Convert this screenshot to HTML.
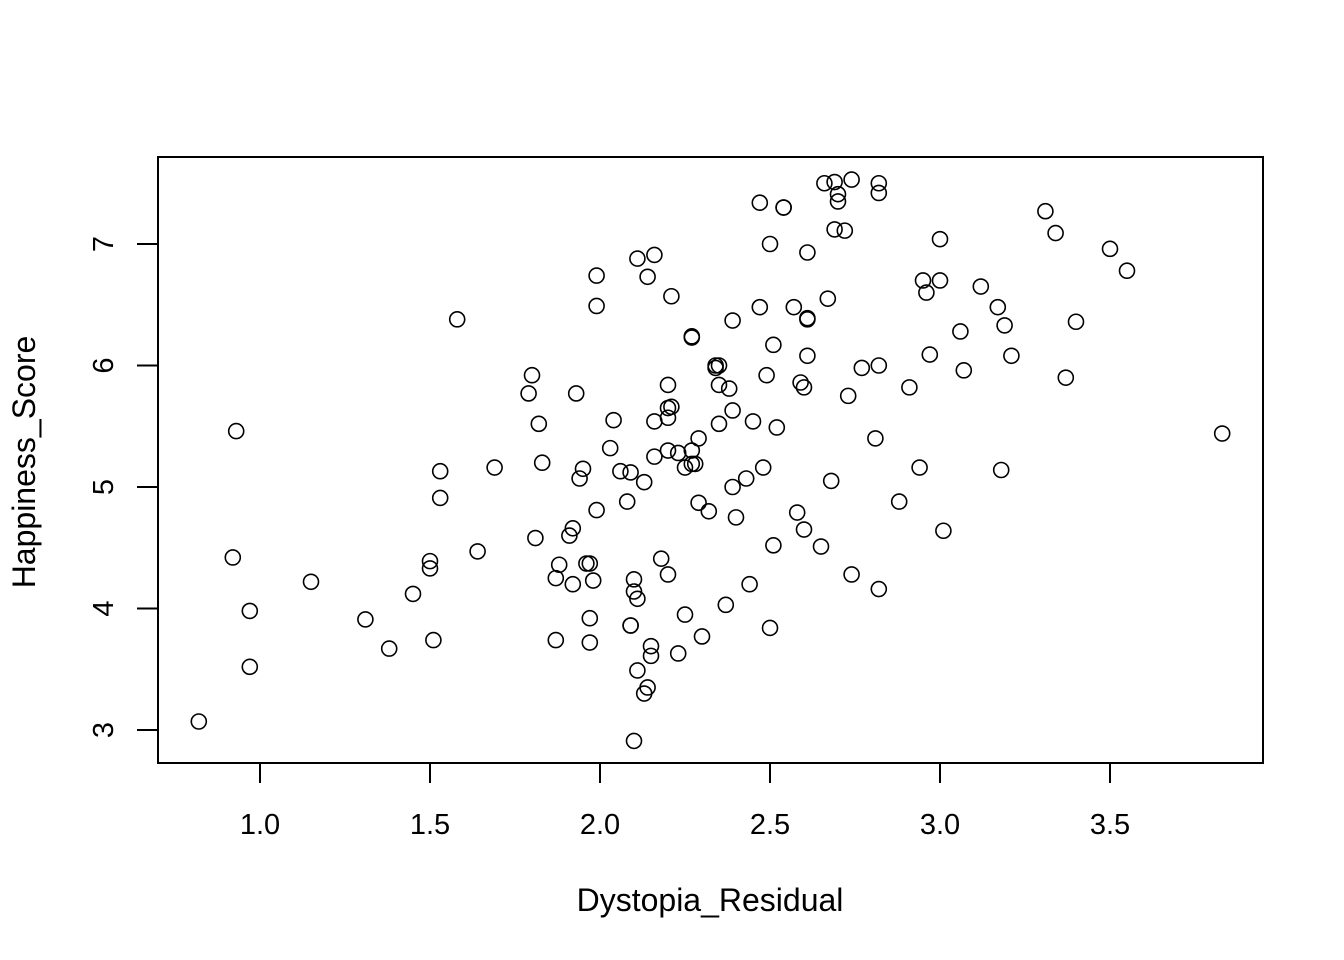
<!DOCTYPE html>
<html><head><meta charset="utf-8"><style>
html,body{margin:0;padding:0;background:#fff;}
svg{display:block;font-family:"Liberation Sans",Arial,sans-serif;}
</style></head><body>
<svg id="chart" width="1344" height="960">
<rect x="158" y="157" width="1105" height="606" fill="none" stroke="#000" stroke-width="2"/>
<g id="xaxis"></g>
<g id="yaxis"></g>
<g id="points"></g>
<text x="710" y="911" font-size="32" text-anchor="middle">Dystopia_Residual</text>
<text transform="translate(35,462) rotate(-90)" font-size="32" text-anchor="middle">Happiness_Score</text>
</svg>
<script>
const xTicks=[1.0,1.5,2.0,2.5,3.0,3.5];
const xTickLabels=["1.0","1.5","2.0","2.5","3.0","3.5"];
const yTicks=[3,4,5,6,7];
const yTickLabels=["3","4","5","6","7"];
const dystopia=[0.82,0.92,0.93,0.97,0.97,1.15,1.31,1.38,1.45,1.50,1.50,1.51,1.53,1.53,1.58,1.64,1.69,1.79,1.80,1.81,1.82,1.83,1.87,1.87,1.88,1.91,1.92,1.92,1.93,1.94,1.95,1.96,1.97,1.97,1.97,1.98,1.99,1.99,1.99,2.03,2.04,2.06,2.08,2.09,2.09,2.09,2.10,2.10,2.11,2.11,2.10,2.11,2.13,2.14,2.13,2.15,2.15,2.14,2.16,2.16,2.16,2.18,2.20,2.20,2.20,2.20,2.21,2.21,2.20,2.23,2.23,2.25,2.25,2.27,2.27,2.27,2.27,2.28,2.29,2.29,2.30,2.32,2.34,2.34,2.35,2.35,2.35,2.37,2.38,2.39,2.39,2.39,2.40,2.43,2.44,2.45,2.47,2.47,2.48,2.49,2.50,2.51,2.51,2.52,2.50,2.54,2.54,2.57,2.58,2.59,2.60,2.60,2.61,2.61,2.61,2.61,2.65,2.66,2.67,2.68,2.69,2.70,2.69,2.70,2.72,2.73,2.74,2.74,2.77,2.81,2.82,2.82,2.82,2.82,2.88,2.91,2.94,2.95,2.96,2.97,3.00,3.00,3.01,3.06,3.07,3.12,3.17,3.18,3.19,3.21,3.31,3.34,3.37,3.40,3.50,3.55,3.83];
const happiness=[3.07,4.42,5.46,3.98,3.52,4.22,3.91,3.67,4.12,4.33,4.39,3.74,5.13,4.91,6.38,4.47,5.16,5.77,5.92,4.58,5.52,5.20,4.25,3.74,4.36,4.60,4.66,4.20,5.77,5.07,5.15,4.37,3.92,3.72,4.37,4.23,6.74,6.49,4.81,5.32,5.55,5.13,4.88,5.12,3.86,3.86,4.24,4.14,4.08,3.49,2.91,6.88,5.04,3.35,3.30,3.69,3.61,6.73,6.91,5.54,5.25,4.41,5.65,5.84,5.30,4.28,6.57,5.66,5.57,5.28,3.63,5.16,3.95,6.23,6.24,5.30,5.19,5.19,5.40,4.87,3.77,4.80,5.98,6.00,6.00,5.84,5.52,4.03,5.81,5.00,5.63,6.37,4.75,5.07,4.20,5.54,7.34,6.48,5.16,5.92,7.00,6.17,4.52,5.49,3.84,7.30,7.30,6.48,4.79,5.86,5.82,4.65,6.39,6.38,6.08,6.93,4.51,7.50,6.55,5.05,7.51,7.41,7.12,7.35,7.11,5.75,7.53,4.28,5.98,5.40,6.00,7.42,7.50,4.16,4.88,5.82,5.16,6.70,6.60,6.09,7.04,6.70,4.64,6.28,5.96,6.65,6.48,5.14,6.33,6.08,7.27,7.09,5.90,6.36,6.96,6.78,5.44];

const NS="http://www.w3.org/2000/svg";
function sx(v){return 260+(v-1.0)*340;}
function sy(v){return 730-(v-3)*121.5;}
function mk(tag,attrs,parent){const e=document.createElementNS(NS,tag);for(const k in attrs)e.setAttribute(k,attrs[k]);parent.appendChild(e);return e;}

const xa=document.getElementById('xaxis');
mk('line',{x1:sx(xTicks[0]),x2:sx(xTicks[xTicks.length-1]),y1:763,y2:763,stroke:'#000','stroke-width':2},xa);
xTicks.forEach((t,i)=>{
  const l=mk('line',{x1:sx(t),x2:sx(t),y1:763,y2:783,stroke:'#000','stroke-width':2},xa);
  
  
  const tx=mk('text',{x:sx(t),y:834,'font-size':29,'text-anchor':'middle'},xa);
  tx.textContent=xTickLabels[i];
  
  
});
const ya=document.getElementById('yaxis');
yTicks.forEach((t,i)=>{
  const l=mk('line',{x1:137,x2:158,y1:sy(t),y2:sy(t),stroke:'#000','stroke-width':2},ya);
  
  
  const tx=mk('text',{transform:`translate(113,${sy(t)}) rotate(-90)`,'font-size':29,'text-anchor':'middle'},ya);
  tx.textContent=yTickLabels[i];
  
  
});
const pg=document.getElementById('points');
dystopia.forEach((d,i)=>{
  const c=mk('circle',{cx:sx(d),cy:sy(happiness[i]),r:7.5,fill:'none',stroke:'#000','stroke-width':1.6},pg);
  
  
});
</script>
</body></html>
